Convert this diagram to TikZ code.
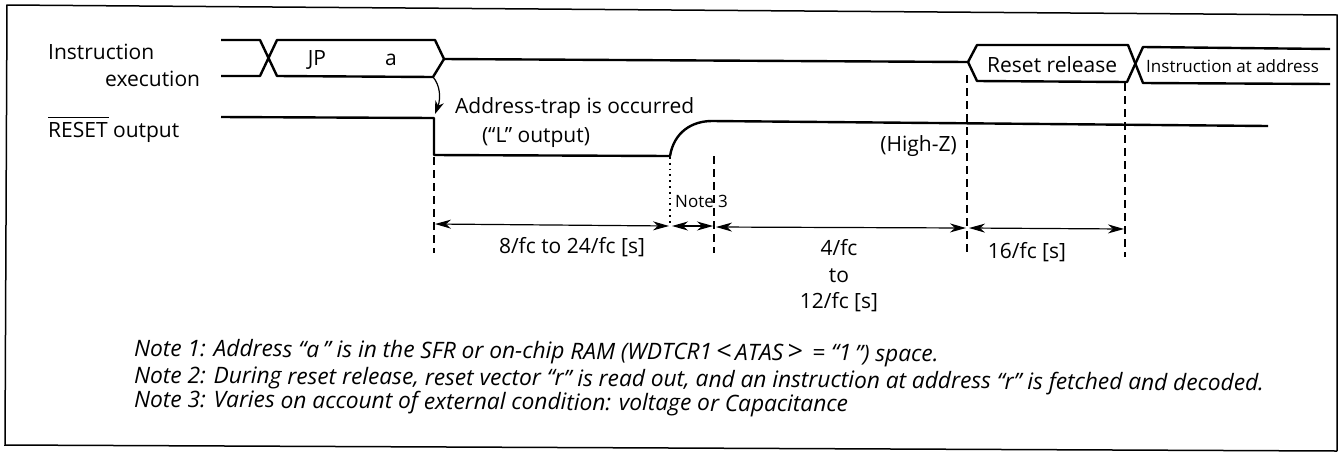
\documentclass[tikz,border=0pt]{standalone}
\usepackage{fontspec}
\setmainfont{Open Sans}
\usetikzlibrary{arrows.meta}
\tikzset{
 x=1pt,y=-1pt,
 wave/.style={line width=2.4pt,line join=round},
 frameline/.style={line width=1.5pt},
 guide/.style={line width=1.2pt,dash pattern=on 8pt off 5pt},
 dots/.style={line width=1.2pt,dash pattern=on 1.8pt off 4pt},
 dim/.style={line width=1.2pt,{Stealth[length=16pt,width=9pt,inset=5pt]}-{Stealth[length=16pt,width=9pt,inset=5pt]}},
 lab/.style={font=\fontsize{21}{24}\selectfont,inner sep=0pt,anchor=base west},
 clab/.style={font=\fontsize{21}{24}\selectfont,inner sep=0pt,anchor=base},
 small/.style={font=\fontsize{17}{20}\selectfont,inner sep=0pt,anchor=base west},
 note/.style={font=\fontsize{22.7}{26}\itshape\selectfont,inner sep=0pt,anchor=base west,rotate=-0.4}
}
\begin{document}
\begin{tikzpicture}
\useasboundingbox (0,0) rectangle (1340,451);
\fill[white] (0,0) rectangle (1340,451);
% frame
\coordinate (ftr) at (1337,15); \coordinate (ftl) at (7,5);
\coordinate (fbl) at (5,445); \coordinate (fbr) at (1337,451);
\draw[frameline] (fbr) -- (ftr) -- (ftl) -- (fbl) -- (fbr);
% upper waveform
\draw[wave] (221,40) -- (260,40) -- (277,76) -- (433,77) -- (444,59) -- (435,40) -- (277,40) -- (260,76) -- (221,76);
\draw[wave] (444,59) -- (968,62) -- (977,45) -- (1128,45) -- (1143,83) -- (1330,84);
\draw[wave] (968,62) -- (977,81) -- (1127,82) -- (1143,47) -- (1330,49);
% reset waveform
\draw[wave] (221,117) -- (434,118) -- (434,155) -- (670,156)
  .. controls (674,132) and (692,121) .. (712,121) -- (1268,126);
% guide lines
\coordinate (g1t) at (434,157); \coordinate (g1b) at (434,253);
\coordinate (g2t) at (967,75);  \coordinate (g2b) at (967,255);
\coordinate (g3t) at (1125,83); \coordinate (g3b) at (1125,257);
\coordinate (g4t) at (714,156); \coordinate (g4b) at (714,253);
\coordinate (d1t) at (670,157); \coordinate (d1b) at (670,225);
\draw[guide] (g1t) -- (g1b);
\draw[guide] (g2t) -- (g2b);
\draw[guide] (g3t) -- (g3b);
\draw[guide] (g4t) -- (g4b);
\draw[dots] (d1t) -- (d1b);
% dimension arrows
\coordinate (a1) at (435,224); \coordinate (a2) at (669,226);
\coordinate (a3) at (672,226); \coordinate (a4) at (713,226);
\coordinate (a5) at (716,227); \coordinate (a6) at (966,228);
\coordinate (a7) at (969,228); \coordinate (a8) at (1124,229);
\draw[dim] (a1) -- (a2);
\draw[dim] (a3) -- (a4);
\draw[dim] (a5) -- (a6);
\draw[dim] (a7) -- (a8);
% causal arrow
\coordinate (c1) at (433,77); \coordinate (c2) at (435,114);
\draw[line width=1.2pt,-{Stealth[length=13pt,width=9pt,inset=4pt]}] (c1) .. controls (440,85) and (441,98) .. (c2);
% labels
\node[lab] (instr) at (48,59) {Instruction};
\node[lab] (exec) at (105,86) {execution};
\node[lab] (rst) at (48,137) {\rlap{\rule[19pt]{61pt}{1pt}}RESET output};
\node[clab] (jp) at (317,65) {JP};
\node[clab] (aa) at (391,65) {a};
\node[lab] (rr) at (987,72) {Reset release};
\node[small] (ia) at (1146,72) {Instruction at address};
\node[lab] (trap) at (455,113) {Address-trap is occurred};
\node[clab] (lo) at (536,142) {(``L'' output)};
\node[lab,anchor=base east] (hz) at (957,151) {(High-Z)};
\node[small] (n3) at (675,207) {Note 3};
\node[clab] (t1) at (572,253) {8/fc to 24/fc [s]};
\node[clab] (t2a) at (839,255) {4/fc};
\node[clab] (t2b) at (839,282) {to};
\node[clab] (t2c) at (839,308) {12/fc [s]};
\node[clab] (t3) at (1027,258) {16/fc [s]};
\node[note] (nt1) at (134,356) {Note 1: Address ``a\,'' is in the SFR or on-chip RAM (WDTCR1\,{\fontsize{27}{26}\selectfont<}\,ATAS\,{\fontsize{27}{26}\selectfont>}\, = ``1\,'') space.};
\node[note] (nt2) at (134,383) {Note 2: During reset release, reset vector ``r'' is read out, and an instruction at address ``r'' is fetched and decoded.};
\node[note] (nt3) at (134,407) {Note 3: Varies on account of external condition: voltage or Capacitance};
\end{tikzpicture}
\end{document}
